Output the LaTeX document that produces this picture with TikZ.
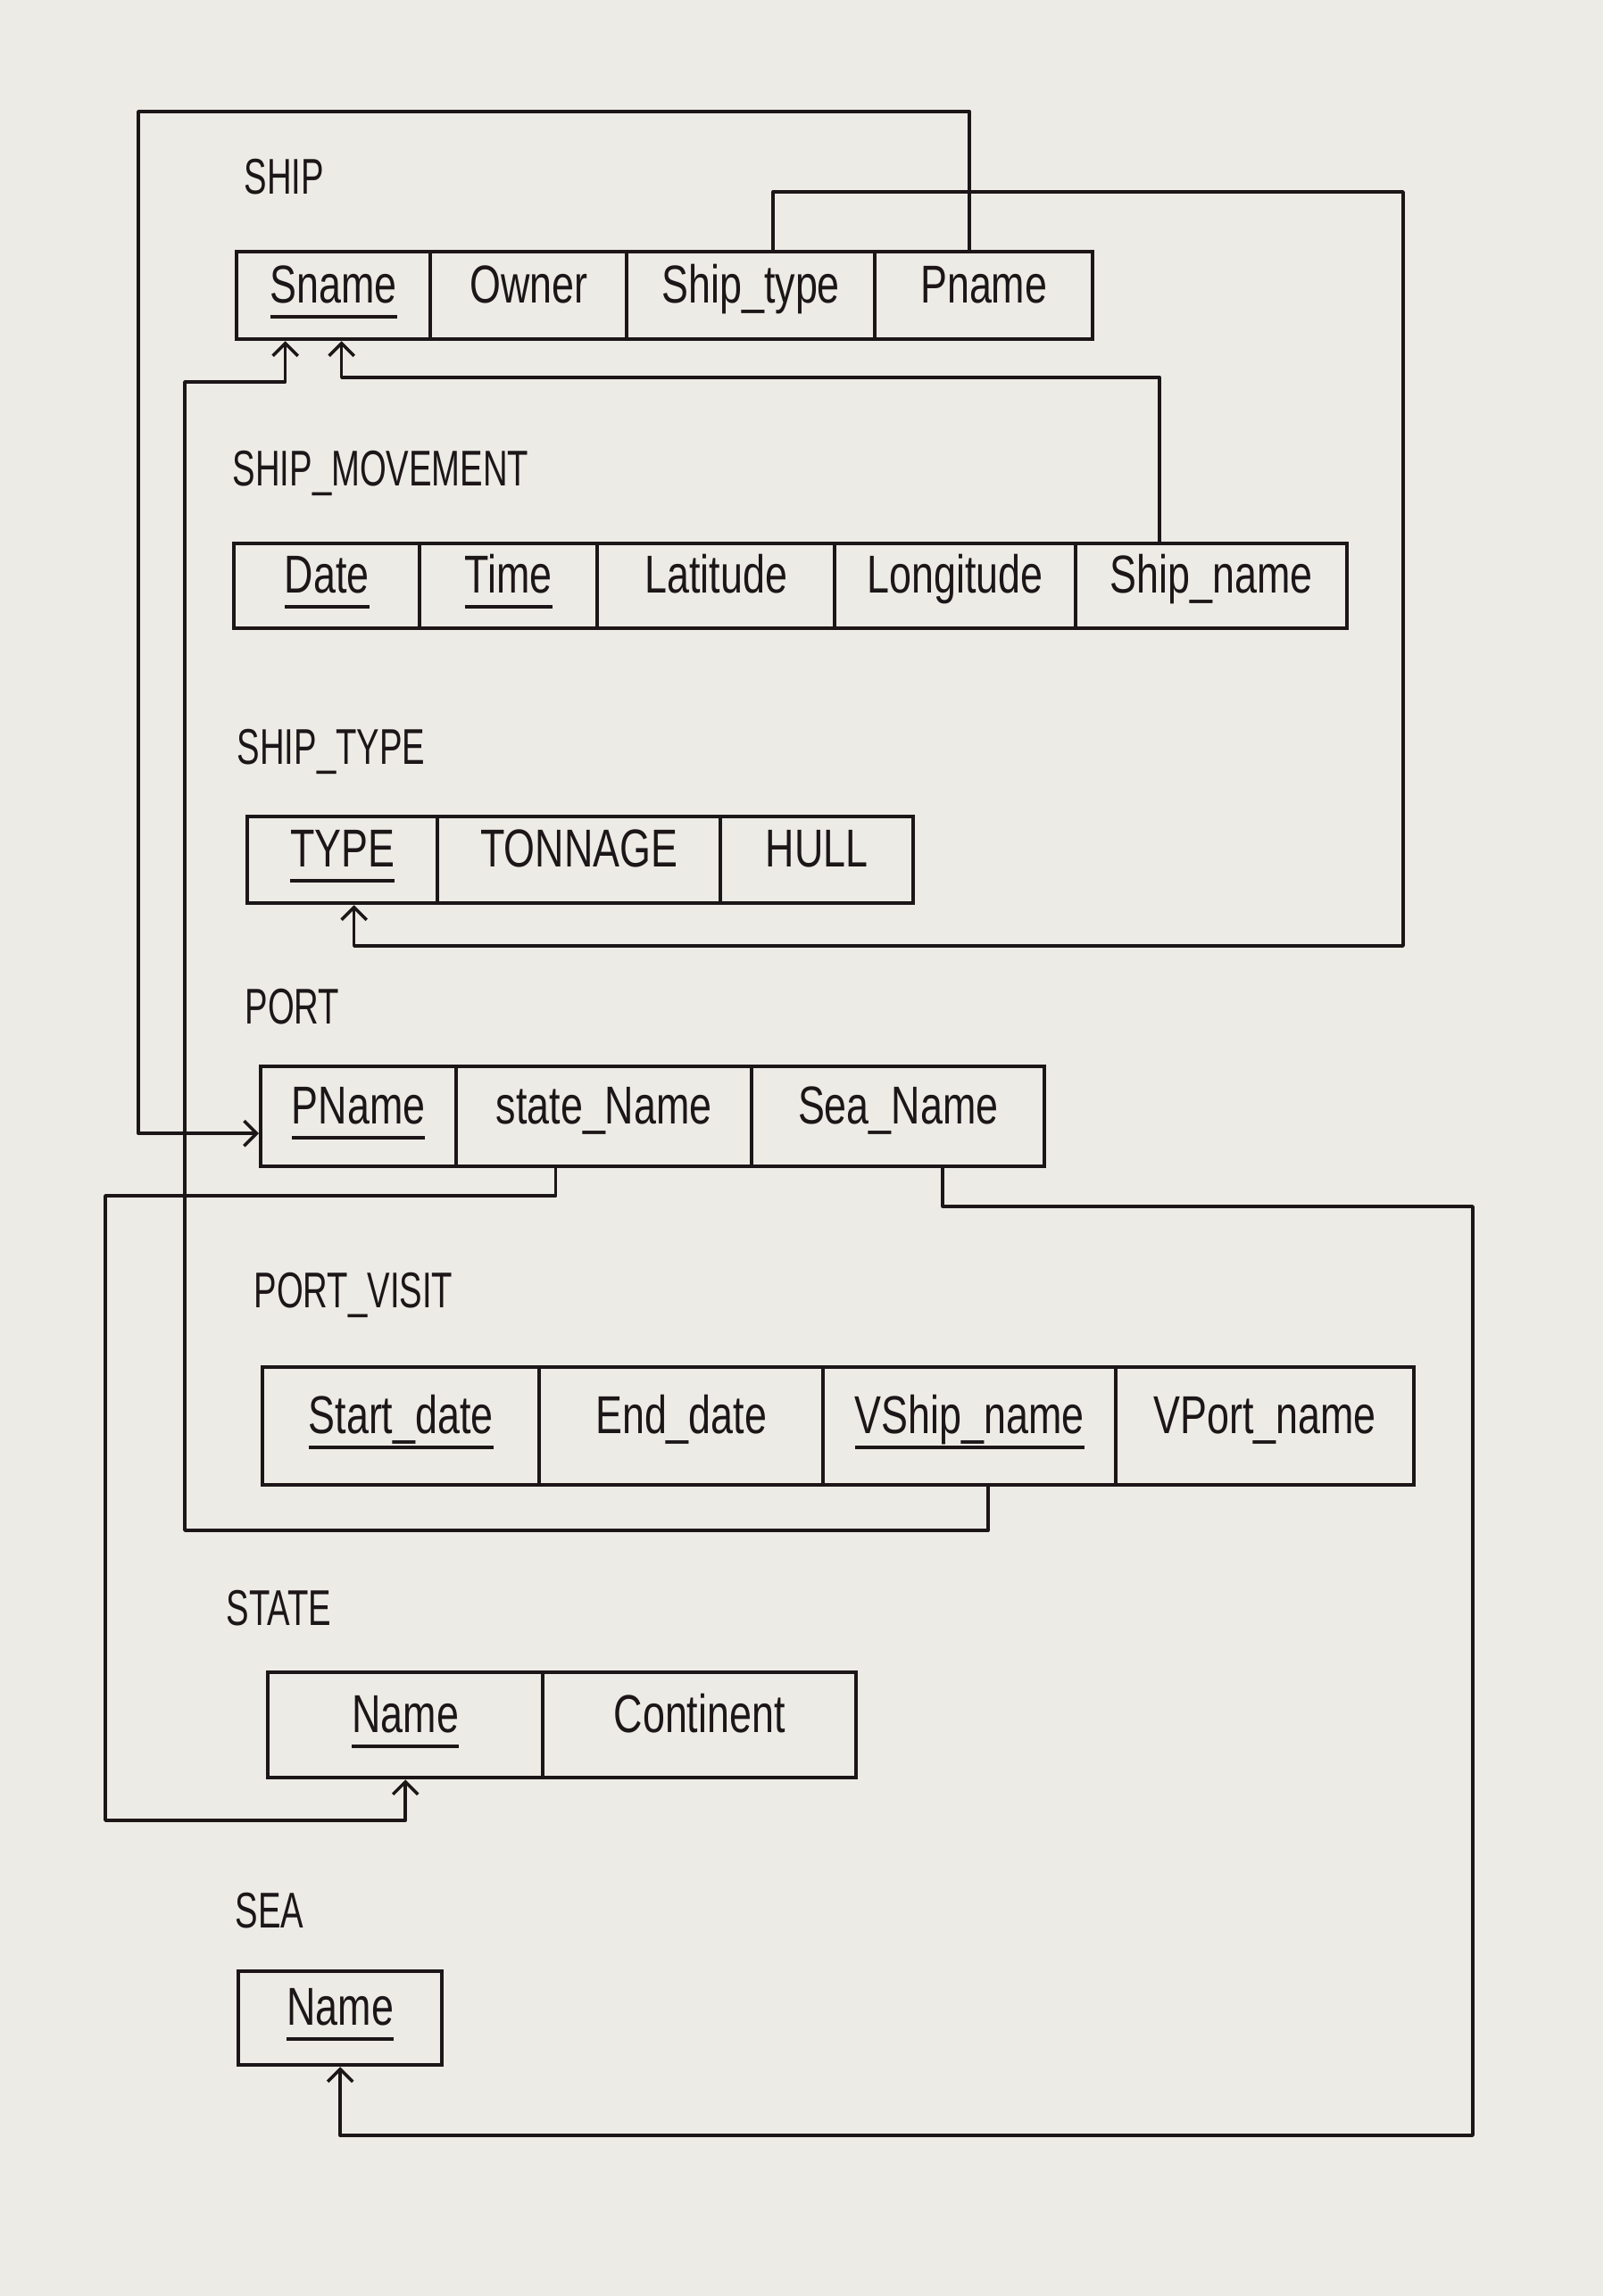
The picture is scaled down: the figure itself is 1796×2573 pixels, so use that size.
\documentclass[tikz,border=0pt]{standalone}
\usepackage{fontspec}
\setmainfont{Liberation Sans}[FakeStretch=0.75]
\newfontfamily\titlefont{Liberation Sans}[FakeStretch=0.68]
\usetikzlibrary{arrows.meta}
\definecolor{paper}{RGB}{236,235,229}
\definecolor{ink}{RGB}{28,22,24}
% primary-key attribute: word with a rule drawn under it
\newcommand\keyattr[1]{\setbox0=\hbox{#1}\rlap{\raisebox{-5pt}{\rule{\wd0}{1.1pt}}}\box0}

\begin{document}
\begin{tikzpicture}[x=0.01cm,y=-0.01cm,
  cell/.style={draw=ink, line width=1.2pt, anchor=north west, inner sep=0pt,
    text=ink, font=\fontsize{17}{20}\selectfont, text height=0.3cm, text depth=0.14cm},
  reltitle/.style={anchor=west, inner sep=0pt, text=ink,
    font=\titlefont\fontsize{16}{19}\selectfont},
  link/.style={draw=ink, line width=1pt, line join=round},
  fk/.style={link, -{Straight Barb[length=4pt,width=8pt]}}
]
\fill[paper] (0,0) rectangle (1796,2573);
\useasboundingbox (0,0) rectangle (1796,2573);

% ---------- relations ----------
\node[reltitle] (ship-t) at (273,198) {SHIP};
\node[cell, minimum width=2.17cm, minimum height=0.98cm] (s-sname) at (263,280) {\keyattr{Sname}};
\node[cell, minimum width=2.20cm, minimum height=0.98cm] (s-owner) at (480,280) {Owner};
\node[cell, minimum width=2.78cm, minimum height=0.98cm] (s-type)  at (700,280) {Ship\_type};
\node[cell, minimum width=2.44cm, minimum height=0.98cm] (s-pname) at (978,280) {Pname};

\node[reltitle] (move-t) at (260,530) {SHIP\_MOVEMENT};
\node[cell, minimum width=2.08cm, minimum height=0.95cm] (m-date) at (260,607) {\keyattr{Date}};
\node[cell, minimum width=1.99cm, minimum height=0.95cm] (m-time) at (468,607) {\keyattr{Time}};
\node[cell, minimum width=2.66cm, minimum height=0.95cm] (m-lat)  at (667,607) {Latitude};
\node[cell, minimum width=2.70cm, minimum height=0.95cm] (m-long) at (933,607) {Longitude};
\node[cell, minimum width=3.04cm, minimum height=0.95cm] (m-ship) at (1203,607) {Ship\_name};

\node[reltitle] (type-t) at (265,842) {SHIP\_TYPE};
\node[cell, minimum width=2.13cm, minimum height=0.97cm] (t-type) at (275,913) {\keyattr{TYPE}};
\node[cell, minimum width=3.17cm, minimum height=0.97cm] (t-ton)  at (488,913) {TONNAGE};
\node[cell, minimum width=2.16cm, minimum height=0.97cm] (t-hull) at (805,913) {HULL};

\node[reltitle] (port-t) at (274,1128) {PORT};
\node[cell, minimum width=2.19cm, minimum height=1.12cm] (p-pname) at (290,1193) {\keyattr{PName}};
\node[cell, minimum width=3.31cm, minimum height=1.12cm] (p-state) at (509,1193) {state\_Name};
\node[cell, minimum width=3.28cm, minimum height=1.12cm] (p-sea)   at (840,1193) {Sea\_Name};

\node[reltitle] (visit-t) at (284,1451) {PORT\_VISIT};
\node[cell, minimum width=3.10cm, minimum height=1.32cm] (v-start) at (292,1530) {\keyattr{Start\_date}};
\node[cell, minimum width=3.18cm, minimum height=1.32cm] (v-end)   at (602,1530) {End\_date};
\node[cell, minimum width=3.28cm, minimum height=1.32cm] (v-ship)  at (920,1530) {\keyattr{VShip\_name}};
\node[cell, minimum width=3.34cm, minimum height=1.32cm] (v-port)  at (1248,1530) {VPort\_name};

\node[reltitle] (state-t) at (253,1802) {STATE};
\node[cell, minimum width=3.08cm, minimum height=1.18cm] (st-name) at (298,1872) {\keyattr{Name}};
\node[cell, minimum width=3.51cm, minimum height=1.18cm] (st-cont) at (606,1872) {Continent};

\node[reltitle] (sea-t) at (263,2141) {SEA};
\node[cell, minimum width=2.28cm, minimum height=1.05cm] (sea-name) at (265,2207) {\keyattr{Name}};

% ---------- bend points of the references ----------
\coordinate (sn-a1) at ([xshift=-0.54cm]s-sname.south);
\coordinate (sn-a2) at ([xshift=0.09cm]s-sname.south);
\coordinate (pn-top) at (155,125);
\coordinate (sm-up) at (0,423);
\coordinate (vs-low) at (207,1715);
\coordinate (vs-up) at (207,428);
\coordinate (ty-tr) at (1572,215);
\coordinate (ty-br) at (1572,1060);
\coordinate (sn-l1) at (118,1340);
\coordinate (sn-l2) at (118,2040);
\coordinate (se-r1) at (1650,1352);
\coordinate (se-r2) at (1650,2393);

% ---------- foreign keys ----------
% SHIP.Pname -> PORT.PName
\draw[fk] ([xshift=-0.16cm]s-pname.north) |- (pn-top) |- ([yshift=-0.19cm]p-pname.west);
% SHIP_MOVEMENT.Ship_name -> SHIP.Sname
\draw[fk] ([xshift=-0.58cm]m-ship.north) |- (sn-a2 |- sm-up) -- (sn-a2);
% PORT_VISIT.VShip_name -> SHIP.Sname
\draw[fk] ([xshift=0.21cm]v-ship.south) |- (vs-low) -- (vs-up) -| (sn-a1);
% SHIP.Ship_type -> SHIP_TYPE.TYPE
\draw[fk] ([xshift=0.25cm]s-type.north) |- (ty-tr) -- (ty-br) -| ([xshift=0.13cm]t-type.south);
% PORT.state_Name -> STATE.Name
\draw[fk] ([xshift=-0.54cm]p-state.south) |- (sn-l1) -- (sn-l2) -| (st-name.south);
% PORT.Sea_Name -> SEA.Name
\draw[fk] ([xshift=0.5cm]p-sea.south) |- (se-r1) -- (se-r2) -| (sea-name.south);
\end{tikzpicture}
\end{document}
